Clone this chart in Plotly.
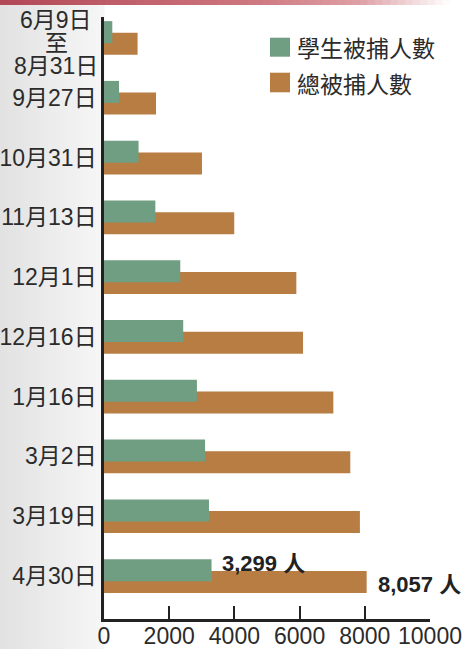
import plotly.graph_objects as go

# ---------------- data ----------------
categories = ["6月9日<br>至<br>8月31日", "9月27日", "10月31日", "11月13日", "12月1日",
              "12月16日", "1月16日", "3月2日", "3月19日", "4月30日"]
students = [255, 460, 1060, 1575, 2340, 2430, 2850, 3100, 3220, 3299]
total = [1030, 1595, 3005, 3995, 5900, 6105, 7035, 7555, 7850, 8057]
series_names = ["學生被捕人數", "總被捕人數"]
x_ticks = [0, 2000, 4000, 6000, 8000, 10000]
unit = "人"

# ---------------- styling / geometry ----------------
W, H = 469, 649
L, R, T, B = 104, 39, 17, 30
PW, PH = W - L - R, H - T - B
GREEN = "#709e82"
ORANGE = "#b77d43"
TXT = "#2b2b2b"
NUMF = "Liberation Sans, Arial, Noto Sans CJK TC, sans-serif"
CJK = "Noto Sans CJK TC, sans-serif"
FS = 23


def px(xp):
    return (xp - L) / PW


def py(yp):
    return 1 - (yp - T) / PH


pos = list(range(len(categories)))
BW = 0.368
G_OFF = -0.281
O_OFF = -0.085

fig = go.Figure()
fig.add_trace(go.Bar(x=total, y=pos, orientation="h", name=series_names[1],
                     marker=dict(color=ORANGE, line=dict(width=0)),
                     offset=O_OFF, width=BW, showlegend=False))
fig.add_trace(go.Bar(x=students, y=pos, orientation="h", name=series_names[0],
                     marker=dict(color=GREEN, line=dict(width=0)),
                     offset=G_OFF, width=BW, showlegend=False))

shapes = []
# left grey background wash
n = 26
for i in range(n):
    x0 = i * 104 / n
    x1 = (i + 1) * 104 / n + 0.5
    t = i / (n - 1)
    v = int(round(226 + (246 - 226) * t))
    shapes.append(dict(type="rect", xref="paper", yref="paper",
                       x0=px(x0), x1=px(x1), y0=py(H), y1=py(5),
                       fillcolor=f"rgb({v},{v},{v})", line=dict(width=0), layer="below"))

# top red band gradient
stops = [(0, (178, 72, 86)), (250, (205, 118, 126)), (360, (222, 160, 165)), (450, (255, 255, 255))]


def band_color(x):
    for (xa, ca), (xb, cb) in zip(stops[:-1], stops[1:]):
        if xa <= x <= xb:
            t = (x - xa) / (xb - xa)
            return tuple(int(round(a + (b - a) * t)) for a, b in zip(ca, cb))
    return stops[-1][1]


m = 60
for i in range(m):
    x0 = i * 450 / m
    x1 = (i + 1) * 450 / m + 0.5
    c = band_color((x0 + x1) / 2)
    shapes.append(dict(type="rect", xref="paper", yref="paper",
                       x0=px(x0), x1=px(x1), y0=py(5), y1=py(0),
                       fillcolor=f"rgb{c}", line=dict(width=0), layer="above"))

# legend squares
for (y0, y1), col in zip([(37.7, 56.7), (72.7, 92.3)], [GREEN, ORANGE]):
    shapes.append(dict(type="rect", xref="paper", yref="paper",
                       x0=px(270), x1=px(290), y0=py(y1), y1=py(y0),
                       fillcolor=col, line=dict(width=0)))

annotations = []
# legend text
for name, yc in zip(series_names, [47.2, 82.5]):
    annotations.append(dict(xref="paper", yref="paper", x=px(295), y=py(yc),
                            xanchor="left", yanchor="middle", showarrow=False,
                            text=name, font=dict(family=CJK, size=23, color=TXT)))

# first (multi-line) category label
first_lines = categories[0].split("<br>")
for line, yc in zip(first_lines, [19.5, 43.0, 66.0]):
    annotations.append(dict(xref="paper", yref="paper", x=px(56), y=py(yc),
                            xanchor="center", yanchor="middle", showarrow=False,
                            text=line, font=dict(family=NUMF, size=FS, color=TXT)))

# value labels for the last category
annotations.append(dict(x=students[-1], y=pos[-1] + G_OFF + BW / 2, xref="x", yref="y",
                        xanchor="left", yanchor="middle", showarrow=False,
                        xshift=8, yshift=7,
                        text=f"<b>{students[-1]:,} {unit}</b>",
                        font=dict(family=NUMF, size=22, color="#222")))
annotations.append(dict(x=total[-1], y=pos[-1] + O_OFF + BW / 2, xref="x", yref="y",
                        xanchor="left", yanchor="middle", showarrow=False,
                        xshift=9, yshift=-3,
                        text=f"<b>{total[-1]:,} {unit}</b>",
                        font=dict(family=NUMF, size=22, color="#222")))

fig.update_layout(
    width=W, height=H,
    margin=dict(l=L, r=R, t=T, b=B, pad=0, autoexpand=False),
    paper_bgcolor="white", plot_bgcolor="rgba(0,0,0,0)",
    barmode="overlay",
    shapes=shapes, annotations=annotations,
    xaxis=dict(range=[0, 10000], tickvals=x_ticks, ticktext=[str(v) for v in x_ticks],
               ticks="inside", ticklen=13, tickwidth=2, tickcolor="#222",
               showline=True, linecolor="#222", linewidth=2.5,
               showgrid=False, zeroline=False, automargin=False, tickangle=0,
               ticklabelstandoff=-5,
               tickfont=dict(family=NUMF, size=FS, color=TXT)),
    yaxis=dict(range=[9.72, -0.35], tickvals=pos[1:], ticktext=categories[1:],
               ticks="", showline=True, linecolor="#222", linewidth=2.5,
               showgrid=False, zeroline=False, automargin=False,
               tickfont=dict(family=NUMF, size=FS, color=TXT)),
)

fig.write_html("out.html", config={"displayModeBar": False},
               post_script="document.body.style.margin='0';document.body.style.overflow='hidden';")
